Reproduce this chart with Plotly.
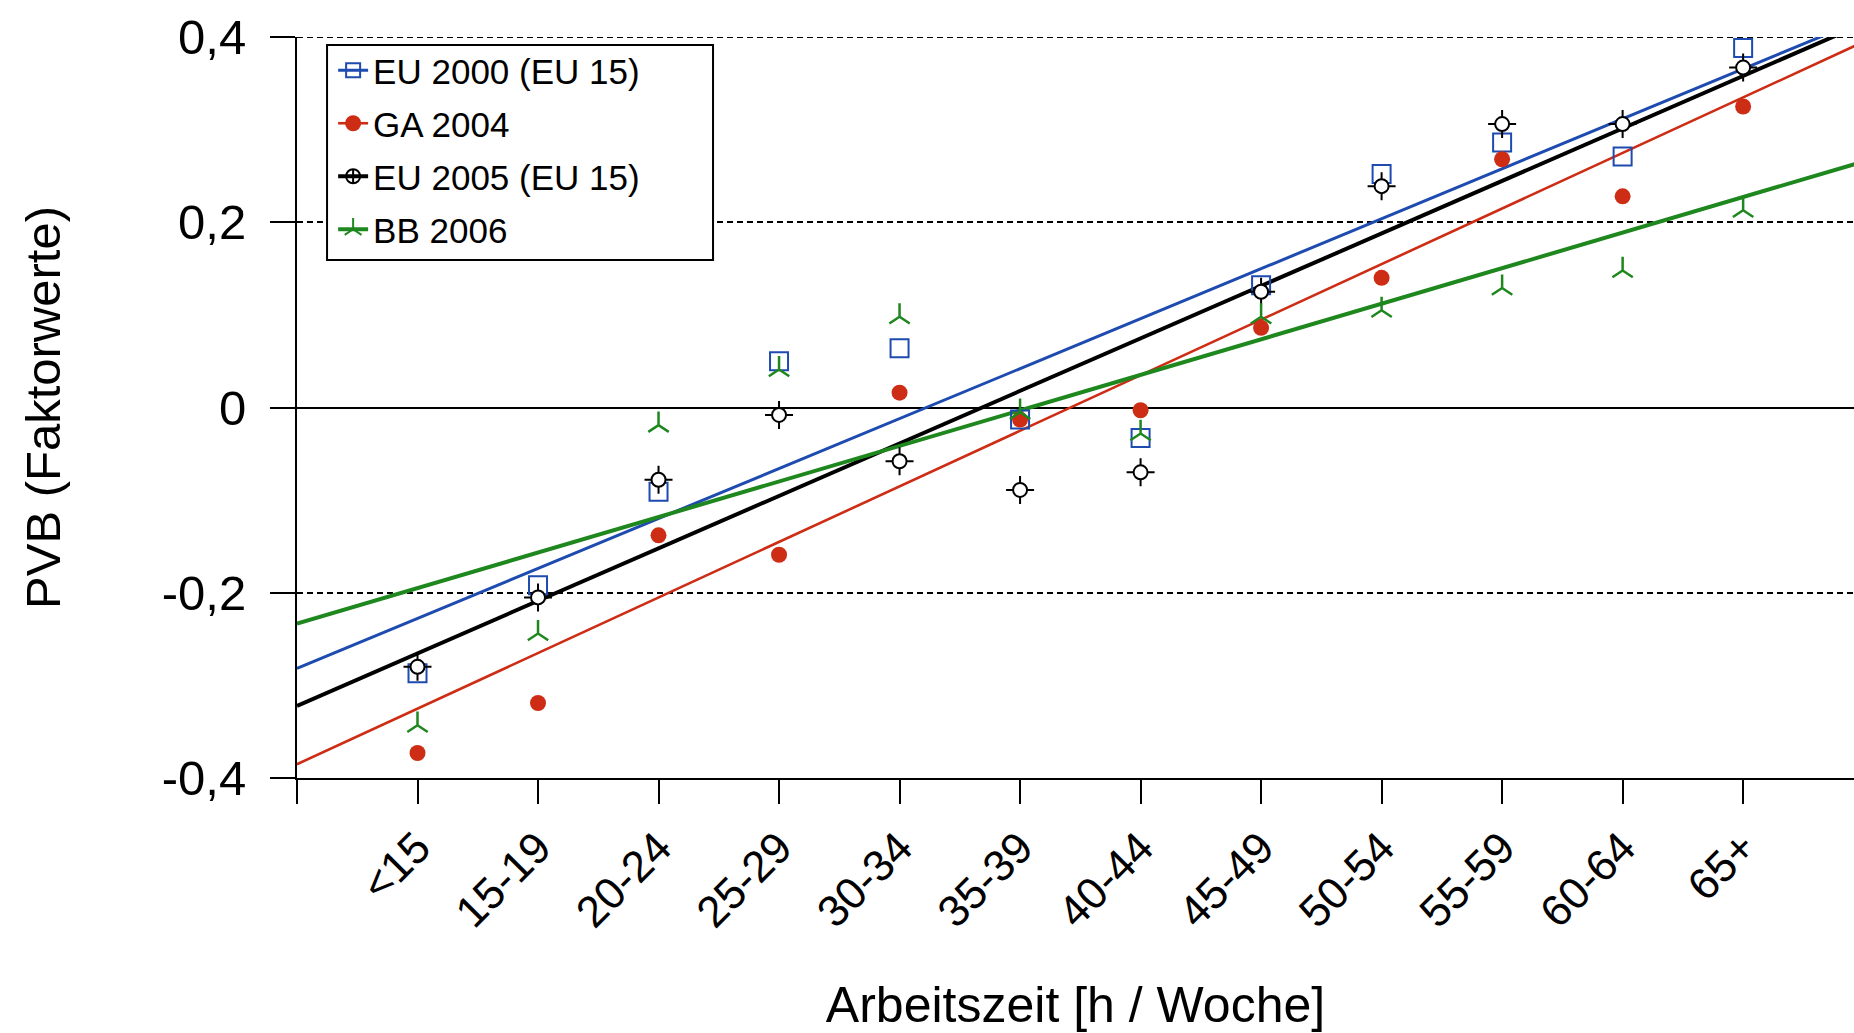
import numpy as np
import plotly.graph_objects as go

categories = ["<15", "15-19", "20-24", "25-29", "30-34", "35-39",
              "40-44", "45-49", "50-54", "55-59", "60-64", "65+"]
eu2000 = [-0.287, -0.192, -0.091, 0.050, 0.064, -0.013, -0.033, 0.132, 0.252, 0.286, 0.271, 0.388]
ga2004 = [-0.373, -0.319, -0.138, -0.159, 0.016, -0.013, -0.003, 0.086, 0.140, 0.268, 0.228, 0.325]
eu2005 = [-0.280, -0.205, -0.078, -0.008, -0.058, -0.089, -0.070, 0.125, 0.239, 0.306, 0.306, 0.367]
bb2006 = [-0.343, -0.244, -0.019, 0.041, 0.098, -0.005, -0.028, 0.098, 0.105, 0.129, 0.148, 0.213]
y_tickvals = [-0.4, -0.2, 0, 0.2, 0.4]
y_ticktext = ["-0,4", "-0,2", "0", "0,2", "0,4"]

BLUE = "#1e4baf"
RED = "#cd2d14"
BLACK = "#000000"
GREEN = "#1e871e"
FONT = "Liberation Sans, Arial, sans-serif"

xpos = np.arange(1, len(categories) + 1)
x_range = [0, 12.92]
y_range = [-0.4, 0.4]

fig = go.Figure()

series = [
    ("EU 2000 (EU 15)", eu2000, BLUE, 3),
    ("GA 2004", ga2004, RED, 2.6),
    ("EU 2005 (EU 15)", eu2005, BLACK, 4),
    ("BB 2006", bb2006, GREEN, 4),
]

# trend lines (least squares fit of each series)
for name, vals, col, lw in series:
    slope, icpt = np.polyfit(xpos, vals, 1)
    xl = np.array([x_range[0], 13.0])
    fig.add_trace(go.Scatter(x=xl, y=icpt + slope * xl, mode="lines",
                             line=dict(color=col, width=lw),
                             showlegend=False, hoverinfo="skip"))

# markers
fig.add_trace(go.Scatter(x=xpos, y=eu2000, mode="markers", showlegend=False,
                         marker=dict(symbol="square-open", size=18, color=BLUE,
                                     line=dict(color=BLUE, width=2))))
fig.add_trace(go.Scatter(x=xpos, y=ga2004, mode="markers", showlegend=False,
                         marker=dict(symbol="circle", size=16, color=RED,
                                     line=dict(width=0))))
fig.add_trace(go.Scatter(x=xpos, y=eu2005, mode="markers", showlegend=False,
                         marker=dict(symbol="cross-thin-open", size=20, color=BLACK,
                                     line=dict(color=BLACK, width=2))))
fig.add_trace(go.Scatter(x=xpos, y=eu2005, mode="markers", showlegend=False,
                         marker=dict(symbol="circle", size=14, color="white",
                                     line=dict(color=BLACK, width=2))))
fig.add_trace(go.Scatter(x=xpos, y=bb2006, mode="markers", showlegend=False,
                         marker=dict(symbol="y-up-open", size=17, color=GREEN,
                                     line=dict(color=GREEN, width=2.5))))

# legend proxies
legend_syms = [("square-open", 14), ("circle", 14), ("circle-cross-open", 14), ("y-up-open", 14)]
for (name, vals, col, lw), (sym, sz) in zip(series, legend_syms):
    fig.add_trace(go.Scatter(x=[None], y=[None], mode="lines+markers", name=name,
                             legendgroup=name,
                             line=dict(color=col, width=lw),
                             marker=dict(symbol=sym, size=sz, color=col,
                                         line=dict(color=col, width=2))))

# dashed gridline at the top edge of the value range
fig.add_shape(type="line", xref="paper", yref="y", x0=0, x1=1,
              y0=y_tickvals[-1], y1=y_tickvals[-1],
              line=dict(color="black", width=2, dash="6px,4px"), layer="below")

# legend frame (paper coords)
fig.add_shape(type="rect", xref="paper", yref="paper",
              x0=0.0193, x1=0.2672, y0=0.6991, y1=0.9892,
              line=dict(color="black", width=2), fillcolor="white", layer="above")

fig.update_layout(
    width=1854, height=1033, autosize=False,
    margin=dict(l=297, r=0, t=37, b=255, pad=0),
    plot_bgcolor="white", paper_bgcolor="white",
    font=dict(family=FONT, color="black"),
    showlegend=True,
    legend=dict(x=0.0232, y=0.9946, xanchor="left", yanchor="top",
                bgcolor="rgba(0,0,0,0)", borderwidth=0,
                font=dict(size=35, family=FONT, color="black"),
                tracegroupgap=4.5, itemwidth=30),
    xaxis=dict(range=x_range, tickmode="array",
               tickvals=list(range(0, 13)), ticktext=[""] + categories,
               tickangle=-45, tickfont=dict(size=44),
               showline=True, linecolor="black", linewidth=2,
               ticks="outside", ticklen=24, tickwidth=2, tickcolor="black",
               showgrid=False, zeroline=False,
               title=dict(text="Arbeitszeit [h / Woche]", font=dict(size=50), standoff=58)),
    yaxis=dict(range=y_range, tickmode="array",
               tickvals=y_tickvals, ticktext=y_ticktext,
               tickfont=dict(size=49),
               showline=True, linecolor="black", linewidth=2,
               ticks="outside", ticklen=25, tickwidth=2, tickcolor="black",
               ticklabelstandoff=14,
               showgrid=True, gridcolor="black", gridwidth=2, griddash="6px,4px",
               zeroline=True, zerolinecolor="black", zerolinewidth=2,
               title=dict(text="PVB (Faktorwerte)", font=dict(size=49), standoff=86)),
)

fig.write_html("out.html")
